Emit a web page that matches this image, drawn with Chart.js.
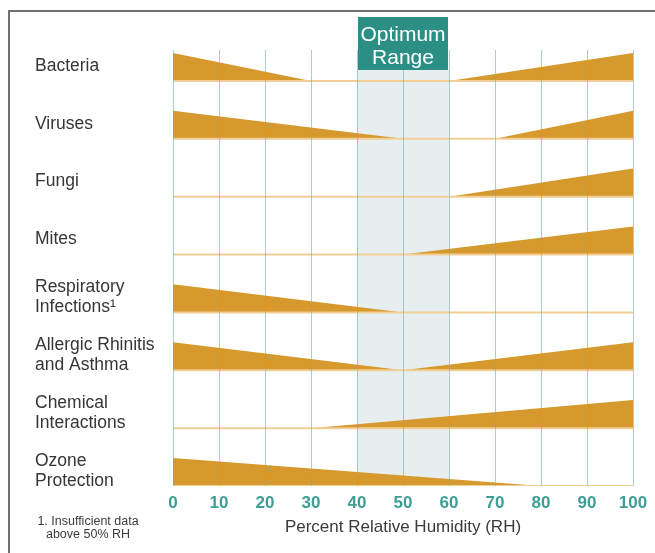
<!DOCTYPE html>
<html>
<head>
<meta charset="utf-8">
<script src="https://cdn.jsdelivr.net/npm/chart.js@4/dist/chart.umd.min.js"></script>
<style>
  body { margin: 0; background: #fff; }
  #wrap { position: relative; width: 655px; height: 553px; overflow: hidden; }
  #frame { position: absolute; left: 8px; top: 10px; width: 700px; height: 600px;
           border-left: 2px solid #707070; border-top: 2px solid #707070; }
  #chart { position: absolute; left: 0; top: 0; }
  #nota { position: absolute; left: 30px; top: 515px; width: 116px; text-align: center;
          font: 12.5px "Liberation Sans", sans-serif; line-height: 13px; color: #3b3b3b; }
</style>
</head>
<body>
<div id="wrap">
  <div id="frame"></div>
  <canvas id="chart" width="655" height="553"></canvas>
  <div id="nota">1. Insufficient data<br>above 50% RH</div>
</div>
<script>
// filas del gráfico, de arriba hacia abajo
const categories = [
    ['Bacteria'],
    ['Viruses'],
    ['Fungi'],
    ['Mites'],
    ['Respiratory', 'Infections¹'],
    ['Allergic Rhinitis', 'and Asthma'],
    ['Chemical', 'Interactions'],
    ['Ozone', 'Protection']
];
const rhTicks = [0, 10, 20, 30, 40, 50, 60, 70, 80, 90, 100];
const optimumRange = [40, 60];

// nivel del efecto (0 = nada, 1 = máximo) en cada punto de humedad [RH, nivel]
const bacteria = [[0, 1], [30, 0], [60, 0], [100, 1]];
const viruses = [[0, 1], [50, 0], [70, 0], [100, 1]];
const fungi = [[0, 0], [60, 0], [100, 1]];
const mites = [[0, 0], [50, 0], [100, 1]];
const respiratory = [[0, 1], [50, 0], [100, 0]];
const allergic = [[0, 1], [50, 0], [100, 1]];
const chemical = [[0, 0], [30, 0], [100, 1]];
const ozone = [[0, 1], [80, 0], [100, 0]];

const series = [bacteria, viruses, fungi, mites, respiratory, allergic, chemical, ozone];

const FONT = '"Liberation Sans", Arial, sans-serif';
const ALTO = 0.485;          // alto de la cuña en unidades de fila
const nFilas = series.length;

const datasets = [];
series.forEach((puntos, i) => {
    const base = nFilas - 1 - i;
    // línea base clara
    datasets.push({
        data: [{ x: 0, y: base }, { x: 100, y: base }],
        borderColor: '#f1cf94',
        borderWidth: 2,
        pointRadius: 0,
        fill: false
    });
    // cuña
    datasets.push({
        data: puntos.map(p => ({ x: p[0], y: base + p[1] * ALTO })),
        borderColor: 'rgba(0,0,0,0)',
        borderWidth: 0,
        backgroundColor: '#d6992e',
        pointRadius: 0,
        tension: 0,
        fill: { value: base }
    });
});

const rangoOptimo = {
    id: 'rangoOptimo',
    beforeDraw(chart) {
        const { ctx, chartArea, scales } = chart;
        const x1 = scales.x.getPixelForValue(optimumRange[0]);
        const x2 = scales.x.getPixelForValue(optimumRange[1]);
        ctx.save();
        ctx.fillStyle = '#e7eef0';
        ctx.fillRect(x1, chartArea.top + 20, x2 - x1, chartArea.bottom - chartArea.top - 20);
        ctx.restore();
    },
    afterDraw(chart) {
        const { ctx, chartArea, scales } = chart;
        const x1 = scales.x.getPixelForValue(optimumRange[0]);
        const x2 = scales.x.getPixelForValue(optimumRange[1]);
        const top = chartArea.top - 33;
        ctx.save();
        ctx.fillStyle = '#2c8f86';
        ctx.fillRect(x1 + 1, top, x2 - x1 - 2, 53);
        ctx.fillStyle = '#ffffff';
        ctx.font = '21px ' + FONT;
        ctx.textAlign = 'center';
        ctx.textBaseline = 'middle';
        ctx.fillText('Optimum', (x1 + x2) / 2, top + 18);
        ctx.fillText('Range', (x1 + x2) / 2, top + 41);
        ctx.restore();
    }
};

new Chart(document.getElementById('chart'), {
    type: 'line',
    data: { datasets: datasets },
    plugins: [rangoOptimo],
    options: {
        responsive: false,
        animation: false,
        layout: { padding: { left: 35, top: 50, right: 22, bottom: 15 } },
        plugins: { legend: { display: false }, tooltip: { enabled: false } },
        scales: {
            x: {
                type: 'linear',
                min: 0,
                max: 100,
                afterBuildTicks: (scale) => { scale.ticks = rhTicks.map(v => ({ value: v })); },
                afterFit: (scale) => { scale.height = 52; },
                // la rejilla se ve por encima de las cuñas
                grid: { color: 'rgba(110,178,172,0.6)', lineWidth: 1, drawTicks: false, z: 1 },
                border: { display: false },
                ticks: {
                    color: '#3c9e94',
                    padding: 7,
                    font: { family: FONT, size: 17, weight: 'bold' }
                },
                title: {
                    display: true,
                    text: 'Percent Relative Humidity (RH)',
                    color: '#3b3b3b',
                    padding: 0,
                    font: { family: FONT, size: 17 }
                }
            },
            y: {
                type: 'linear',
                min: 0,
                max: 7.535,
                afterBuildTicks: (scale) => {
                    scale.ticks = categories.map((c, i) => ({ value: nFilas - 1 - i + 0.26 }));
                },
                afterFit: (scale) => { scale.width = 138; },
                grid: { display: false },
                border: { display: false },
                ticks: {
                    autoSkip: false,
                    crossAlign: 'far',
                    color: '#363636',
                    font: { family: FONT, size: 17.5, lineHeight: 1.15 },
                    callback: (valor, indice) => categories[indice]
                }
            }
        }
    }
});
</script>
</body>
</html>
